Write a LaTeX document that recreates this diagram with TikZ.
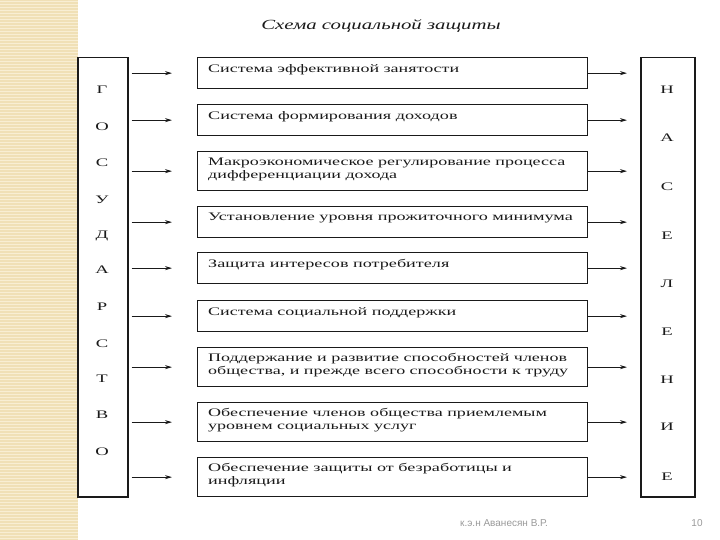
\documentclass[tikz,border=0pt]{standalone}
\usepackage{fontspec}
\usepackage{graphicx}
\setmainfont{Liberation Serif}
\newfontfamily\boxfont[FakeStretch=1.35]{Liberation Serif}
\newfontfamily\footfont{Liberation Sans}
\usetikzlibrary{arrows.meta,calc}
\definecolor{stripbeige}{HTML}{F0E0B6}
\definecolor{stripline}{HTML}{F8EED3}
\definecolor{inkdark}{HTML}{1A1A1A}
\definecolor{footgray}{HTML}{9A9A9A}
\newcommand\myscx[2]{\scalebox{#1}[1]{\begin{tabular}{@{}l@{}}#2\end{tabular}}}
\tikzset{
  sbox/.style={draw=inkdark, line width=1.3pt, fill=white, inner sep=0pt, anchor=north west},
  sidebox/.style={draw=inkdark, line width=1.5pt, fill=white, inner sep=0pt, anchor=north west},
  btext/.style={anchor=north west, inner sep=0pt, font=\boxfont\fontsize{11.5}{13}\selectfont, text=inkdark},
  letter/.style={inner sep=0pt, font=\boxfont\fontsize{11.5}{13}\selectfont, text=inkdark},
  arr/.style={draw=inkdark, line width=0.7pt, -{Stealth[length=7pt,width=4pt]}},
  foot/.style={inner sep=0pt, font=\footfont\fontsize{10}{12}\selectfont, text=footgray}
}
\begin{document}
\begin{tikzpicture}[x=1pt,y=-1pt]
\useasboundingbox (0,0) rectangle (720,540);
\fill[white] (0,0) rectangle (720,540);
\fill[stripbeige] (0,0) rectangle (78,540);
\foreach \yy in {1.5,4.5,...,540} \draw[stripline, line width=1pt] (0,\yy) -- (78,\yy);

% title
\node[inner sep=0pt, font=\boxfont\itshape\fontsize{14}{16}\selectfont, text=inkdark] (title) at (381,26) {\scalebox{1.1}[1]{Схема социальной защиты}};

% side boxes
\node[sidebox, minimum width=50, minimum height=439] (gov) at (77,57) {};
\node[sidebox, minimum width=54, minimum height=439] (pop) at (640,57) {};

% main boxes
\node[sbox, minimum width=390, minimum height=31] (b1) at (197,57) {};
\node[sbox, minimum width=390, minimum height=31] (b2) at (197,104) {};
\node[sbox, minimum width=390, minimum height=39] (b3) at (197,151) {};
\node[sbox, minimum width=390, minimum height=31] (b4) at (197,206) {};
\node[sbox, minimum width=390, minimum height=31] (b5) at (197,252) {};
\node[sbox, minimum width=390, minimum height=31] (b6) at (197,300) {};
\node[sbox, minimum width=390, minimum height=39] (b7) at (197,347) {};
\node[sbox, minimum width=390, minimum height=39] (b8) at (197,402) {};
\node[sbox, minimum width=390, minimum height=39] (b9) at (197,457) {};

% box texts
\node[btext] (t1) at ($(b1.north west)+(11,6)$) {\myscx{1.16}{Система эффективной занятости}};
\node[btext] (t2) at ($(b2.north west)+(11,6)$) {\myscx{1.17}{Система формирования доходов}};
\node[btext] (t3) at ($(b3.north west)+(11,5)$) {\myscx{1.16}{Макроэкономическое регулирование процесса\\дифференциации дохода}};
\node[btext] (t4) at ($(b4.north west)+(11,5)$) {\myscx{1.17}{Установление уровня прожиточного минимума}};
\node[btext] (t5) at ($(b5.north west)+(11,6)$) {\myscx{1.17}{Защита интересов потребителя}};
\node[btext] (t6) at ($(b6.north west)+(11,6)$) {\myscx{1.16}{Система социальной поддержки}};
\node[btext] (t7) at ($(b7.north west)+(11,5)$) {\myscx{1.16}{Поддержание и развитие способностей членов\\общества, и прежде всего способности к труду}};
\node[btext] (t8) at ($(b8.north west)+(11,5)$) {\myscx{1.16}{Обеспечение членов общества приемлемым\\уровнем социальных услуг}};
\node[btext] (t9) at ($(b9.north west)+(11,5)$) {\myscx{1.17}{Обеспечение защиты от безработицы и\\инфляции}};

% arrows
\foreach \i in {1,...,9} {
  \draw[arr, shorten <=3pt, shorten >=25pt] (gov.east |- b\i.west) -- (b\i.west);
  \draw[arr, shorten >=13pt] (b\i.east) -- (pop.west |- b\i.east);
}

% letters left
\node[letter] (g1) at (102,90) {\scalebox{1.2}[1]{Г}};
\node[letter] (g2) at (102,127) {\scalebox{1.2}[1]{О}};
\node[letter] (g3) at (102,163) {\scalebox{1.2}[1]{С}};
\node[letter] (g4) at (102,200) {\scalebox{1.2}[1]{У}};
\node[letter] (g5) at (102,236) {\scalebox{1.2}[1]{Д}};
\node[letter] (g6) at (102,270) {\scalebox{1.2}[1]{А}};
\node[letter] (g7) at (102,307) {\scalebox{1.2}[1]{Р}};
\node[letter] (g8) at (102,344) {\scalebox{1.2}[1]{С}};
\node[letter] (g9) at (102,379) {\scalebox{1.2}[1]{Т}};
\node[letter] (g10) at (102,415) {\scalebox{1.2}[1]{В}};
\node[letter] (g11) at (102,452) {\scalebox{1.2}[1]{О}};

% letters right
\node[letter] (p1) at (667,90) {\scalebox{1.2}[1]{Н}};
\node[letter] (p2) at (667,138) {\scalebox{1.2}[1]{А}};
\node[letter] (p3) at (667,187) {\scalebox{1.2}[1]{С}};
\node[letter] (p4) at (667,236) {\scalebox{1.2}[1]{Е}};
\node[letter] (p5) at (667,284) {\scalebox{1.2}[1]{Л}};
\node[letter] (p6) at (667,332) {\scalebox{1.2}[1]{Е}};
\node[letter] (p7) at (667,380) {\scalebox{1.2}[1]{Н}};
\node[letter] (p8) at (667,427) {\scalebox{1.2}[1]{И}};
\node[letter] (p9) at (667,477) {\scalebox{1.2}[1]{Е}};

% footer
\node[foot] (author) at (504,523) {к.э.н Аванесян В.Р.};
\node[foot] (page) at (697,523) {10};
\end{tikzpicture}
\end{document}
